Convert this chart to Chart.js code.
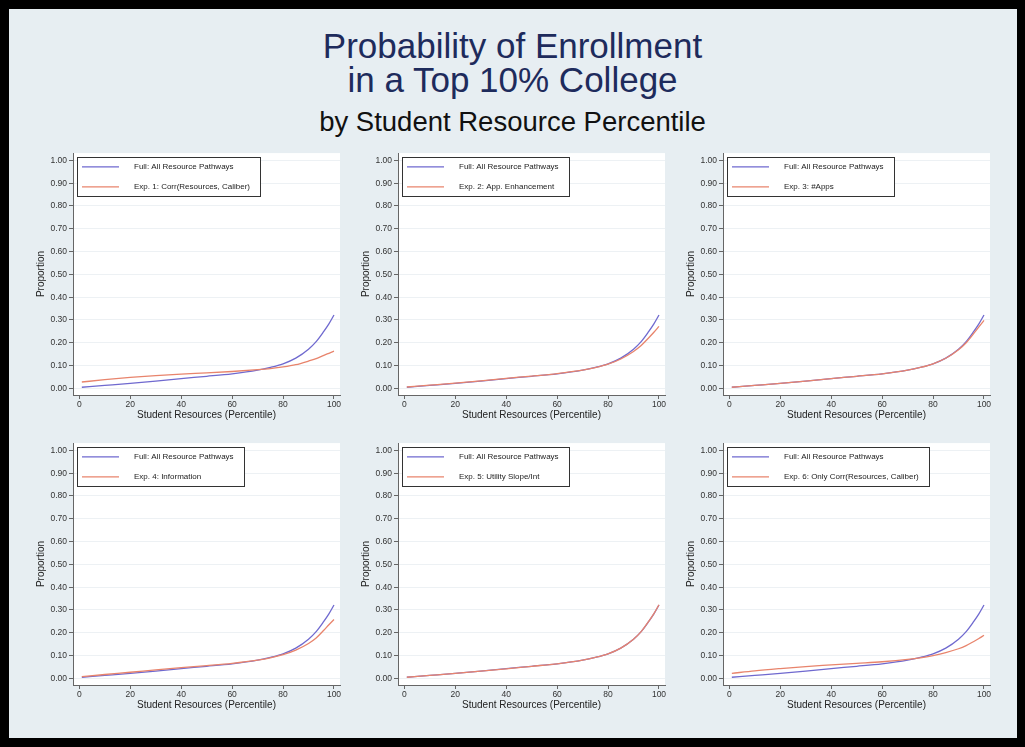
<!DOCTYPE html>
<html>
<head>
<meta charset="utf-8">
<script src="https://cdn.jsdelivr.net/npm/chart.js@4"></script>
<style>
  html, body { margin: 0; padding: 0; background: #000; width: 1025px; height: 747px; overflow: hidden; }
  #page { position: absolute; left: 9px; top: 9px; width: 1008px; height: 729px; background: #e7eef2; }
  .head { position: absolute; left: 0; width: 1025px; text-align: center; line-height: 1;
          font-family: "Liberation Sans", Arial, sans-serif; white-space: nowrap; }
  .t1 { font-size: 35px; color: #1e2b5c; }
  .t2 { font-size: 27.5px; color: #111; }
  canvas { position: absolute; }
</style>
</head>
<body>
<div id="page"></div>
<div class="head t1" style="top:28px">Probability of Enrollment</div>
<div class="head t1" style="top:62px">in a Top 10% College</div>
<div class="head t2" style="top:108px">by Student Resource Percentile</div>

<script>
const pct  = [1, 10, 20, 30, 40, 50, 60, 70, 75, 80, 85, 90, 93, 96, 98, 100];

const full = [0.005, 0.013, 0.022, 0.032, 0.043, 0.053, 0.064, 0.080, 0.092, 0.108, 0.133, 0.172, 0.205, 0.250, 0.283, 0.322];
const exp1 = [0.028, 0.038, 0.048, 0.056, 0.063, 0.068, 0.074, 0.082, 0.087, 0.094, 0.104, 0.120, 0.131, 0.145, 0.154, 0.163];
const exp2 = [0.006, 0.014, 0.023, 0.033, 0.044, 0.054, 0.065, 0.080, 0.091, 0.106, 0.129, 0.162, 0.188, 0.222, 0.246, 0.272];
const exp3 = [0.005, 0.013, 0.022, 0.032, 0.043, 0.053, 0.064, 0.080, 0.092, 0.108, 0.132, 0.169, 0.200, 0.241, 0.270, 0.298];
const exp4 = [0.008, 0.017, 0.027, 0.037, 0.047, 0.056, 0.066, 0.080, 0.090, 0.104, 0.124, 0.153, 0.177, 0.211, 0.235, 0.258];
const exp5 = [0.005, 0.013, 0.022, 0.032, 0.042, 0.053, 0.064, 0.080, 0.092, 0.108, 0.133, 0.172, 0.205, 0.251, 0.284, 0.323];
const exp6 = [0.022, 0.033, 0.043, 0.052, 0.059, 0.066, 0.073, 0.083, 0.090, 0.100, 0.113, 0.130, 0.144, 0.162, 0.175, 0.189];

const fullLabel = 'Full: All Resource Pathways';
const expLabels = [
  'Exp. 1: Corr(Resources, Caliber)',
  'Exp. 2: App. Enhancement',
  'Exp. 3: #Apps',
  'Exp. 4: Information',
  'Exp. 5: Utility Slope/Int',
  'Exp. 6: Only Corr(Resources, Caliber)'
];
const expSeries = [exp1, exp2, exp3, exp4, exp5, exp6];

const xTicks = [0, 20, 40, 60, 80, 100];
const yTicks = [0, 0.1, 0.2, 0.3, 0.4, 0.5, 0.6, 0.7, 0.8, 0.9, 1.0];

// layout (page pixels)
const colX = [73, 398, 723], rowY = [152, 442];
const plotW = 267, plotH = 243;
const axisW = 40, axisH = 26, padTop = 6, padRight = 8;
const FONT = '"Liberation Sans", Arial, sans-serif';
const BLUE = '#6f69cf', RED = '#e8846c';

const plotBg = {
  id: 'plotBg',
  beforeDraw(chart) {
    const {ctx, chartArea: a} = chart;
    ctx.save();
    ctx.fillStyle = '#fff';
    ctx.fillRect(a.left, a.top, a.right - a.left, a.bottom - a.top);
    ctx.restore();
  }
};

// stata-style boxed legend in the top-left corner of the plot
const boxLegend = {
  id: 'boxLegend',
  afterDraw(chart) {
    const {ctx, chartArea: a} = chart;
    const ds = chart.data.datasets;
    ctx.save();
    ctx.font = '8px ' + FONT;
    let tw = 0;
    ds.forEach(d => { tw = Math.max(tw, ctx.measureText(d.label).width); });
    const bx = Math.round(a.left + 4), by = Math.round(a.top + 4);
    const bw = Math.round(57 + tw + 10), bh = 39;
    ctx.fillStyle = '#fff';
    ctx.fillRect(bx, by, bw, bh);
    ctx.strokeStyle = '#333';
    ctx.lineWidth = 1;
    ctx.strokeRect(bx + 0.5, by + 0.5, bw, bh);
    ds.forEach((d, i) => {
      const y = a.top + 13.7 + i * 20;
      ctx.strokeStyle = d.borderColor;
      ctx.lineWidth = 1.2;
      ctx.beginPath();
      ctx.moveTo(a.left + 9, y);
      ctx.lineTo(a.left + 46, y);
      ctx.stroke();
      ctx.fillStyle = '#222';
      ctx.textBaseline = 'middle';
      ctx.fillText(d.label, a.left + 61, y);
    });
    ctx.restore();
  }
};

expSeries.forEach((exp, i) => {
  const left = colX[i % 3], top = rowY[Math.floor(i / 3)];
  const cv = document.createElement('canvas');
  const w = axisW + plotW + padRight, h = padTop + plotH + axisH;
  cv.width = w; cv.height = h;
  cv.style.left = (left - axisW) + 'px';
  cv.style.top = (top - padTop) + 'px';
  cv.style.width = w + 'px'; cv.style.height = h + 'px';
  document.body.appendChild(cv);

  new Chart(cv.getContext('2d'), {
    type: 'line',
    data: {
      datasets: [
        { label: fullLabel, data: pct.map((p, k) => ({x: p, y: full[k]})),
          borderColor: BLUE, borderWidth: 1.3, order: 1 },
        { label: expLabels[i], data: pct.map((p, k) => ({x: p, y: exp[k]})),
          borderColor: RED, borderWidth: 1.3, order: 0 }
      ]
    },
    options: {
      responsive: false,
      animation: false,
      events: [],
      layout: { padding: { top: padTop, right: padRight, left: 0, bottom: 0 } },
      elements: { point: { radius: 0 }, line: { cubicInterpolationMode: 'monotone', fill: false } },
      plugins: { legend: { display: false }, tooltip: { enabled: false } },
      scales: {
        x: {
          type: 'linear', min: -2.47, max: 102.36,
          afterBuildTicks: s => { s.ticks = xTicks.map(v => ({value: v})); },
          afterFit: s => { s.height = axisH; },
          grid: { drawOnChartArea: false, drawTicks: true, tickLength: 4, tickColor: '#666' },
          border: { display: true, color: '#666', width: 1 },
          ticks: { font: { size: 8.5, family: FONT }, color: '#333', padding: 1, maxRotation: 0, autoSkip: false },
          title: { display: true, text: 'Student Resources (Percentile)', color: '#222',
                   font: { size: 10, family: FONT }, padding: { top: 0, bottom: 0 } }
        },
        y: {
          type: 'linear', min: -0.029, max: 1.032,
          afterBuildTicks: s => { s.ticks = yTicks.map(v => ({value: v})); },
          afterFit: s => { s.width = axisW; },
          grid: { color: '#edf1f4', drawTicks: true, tickLength: 4, tickColor: '#666' },
          border: { display: true, color: '#666', width: 1 },
          ticks: { font: { size: 8.5, family: FONT }, color: '#333', padding: 2,
                   callback: v => v.toFixed(2) },
          title: { display: true, text: 'Proportion', color: '#222',
                   font: { size: 10, family: FONT }, padding: { top: 2.5, bottom: 0 } }
        }
      }
    },
    plugins: [plotBg, boxLegend]
  });
});
</script>
</body>
</html>
